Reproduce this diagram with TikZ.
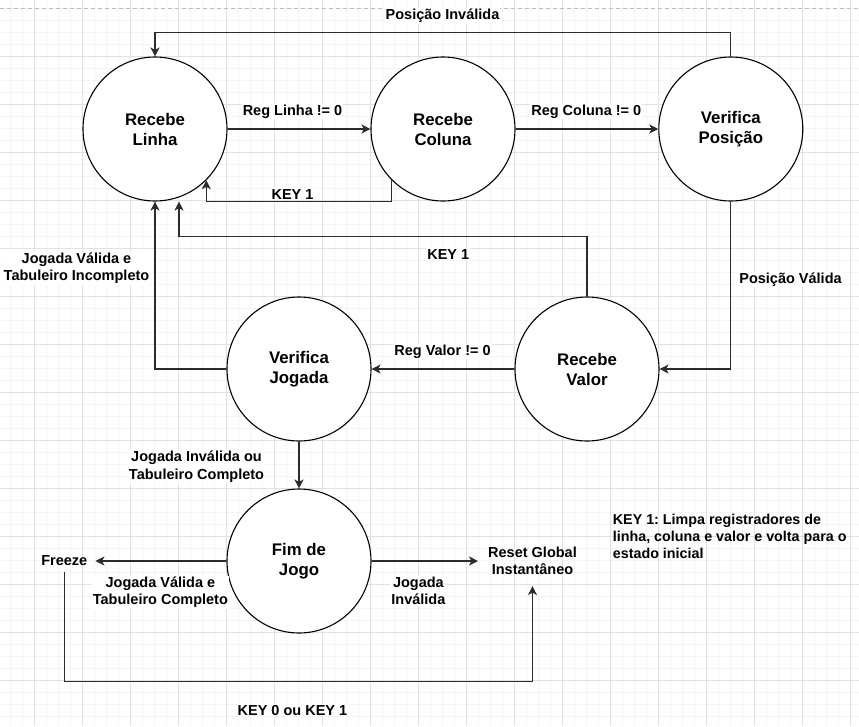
\documentclass[tikz,border=0pt]{standalone}
\usepackage{fontspec}
\setmainfont{Liberation Sans}
\usetikzlibrary{arrows.meta,calc}
\definecolor{gmaj}{HTML}{E2E2E2}
\definecolor{gmin}{HTML}{F5F5F5}
\definecolor{pagedash}{HTML}{BDBDBD}
\definecolor{ink}{HTML}{2B2B2B}
\frenchspacing
\begin{document}
\begin{tikzpicture}[x=1pt,y=-1pt,
  state/.style={circle,draw=black,line width=1.1pt,fill=white,minimum size=144pt,inner sep=0pt,align=center,font=\fontsize{16.8}{20}\selectfont\bfseries},
  lbl/.style={font=\fontsize{14.5}{17.6}\selectfont\bfseries,inner sep=1pt,align=center,fill=white},
  plain/.style={font=\fontsize{14.5}{17.6}\selectfont\bfseries,align=center},
  conn/.style={draw=ink,line width=1.3pt,-{Stealth[length=9pt,width=9pt,inset=2.5pt]}},
  gridminor/.style={draw=gmin,line width=0.8pt},
  gridmajor/.style={draw=gmaj,line width=0.9pt}]
\useasboundingbox (0,0) rectangle (859,726);
\fill[white] (0,0) rectangle (859,726);
% grid
\foreach \i in {0,...,70} \draw[gridminor] ({10.7+12*\i},0) -- ({10.7+12*\i},726);
\foreach \i in {0,...,59} \draw[gridminor] (0,{8.3+12*\i}) -- (859,{8.3+12*\i});
\foreach \i in {0,...,17} \draw[gridmajor] ({34.7+48*\i},0) -- ({34.7+48*\i},726);
\foreach \i in {1,...,14} \draw[gridmajor] (0,{8.3+48*\i}) -- (859,{8.3+48*\i});
\draw[pagedash,line width=0.9pt,dash pattern=on 4pt off 3pt] (0,8.3) -- (859,8.3);
% states
\node[state] (RL) at (155,129) {Recebe\\Linha};
\node[state] (RC) at (443,129) {Recebe\\Coluna};
\node[state] (VP) at (730.8,129) {Verifica\\Posição};
\node[state] (RV) at (587,369) {Recebe\\Valor};
\node[state] (VJ) at (299,369) {Verifica\\Jogada};
\node[state] (FJ) at (299,561) {Fim de\\Jogo};
% terminal texts
\node[plain,anchor=base,inner xsep=8pt,inner ysep=6.5pt] (Freeze) at (64.3,565) {Freeze};
\node[plain,inner xsep=10pt,inner ysep=11pt] (Reset) at (532.5,560.75) {Reset Global\\Instantâneo};
\node[font=\fontsize{14.3}{17.3}\selectfont\bfseries,align=left,anchor=west,inner sep=0pt] (note) at (612.7,536.25) {KEY 1: Limpa registradores de\\linha, coluna e valor e volta para o\\estado inicial};
% connectors
\draw[conn] (RL.east) -- (RC.west);
\draw[conn] (RC.east) -- (VP.west);
\draw[conn] (RC.south west) -- ++(0,21) -| (RL.south east);
\draw[conn] (VP.north) -- ++(0,-24) -| (RL.north);
\draw[conn] (VP.south) |- (RV.east);
\draw[conn] (RV.north) -- ++(0,-60) -| ($(RL.south)+(24,0)$);
\draw[conn] (RV.west) -- (VJ.east);
\draw[conn] (VJ.west) -| (RL.south);
\draw[conn] (VJ.south) -- (FJ.north);
\draw[conn] (FJ.west) -- (FJ.west -| Freeze.east);
\draw[conn] (FJ.east) -- (FJ.east -| Reset.west);
\draw[conn] (Freeze.south) -- ++(0,109.3) -| (Reset.south);
% labels
\node[lbl,anchor=base] (l1) at (292.5,115) {Reg Linha != 0};
\node[lbl,anchor=base] (l2) at (586.3,115) {Reg Coluna != 0};
\node[lbl,anchor=base] (l3) at (292.5,199) {KEY 1};
\node[lbl,anchor=base] (l4) at (442.5,19.5) {Posição Inválida};
\node[lbl,anchor=base] (l5) at (790.5,283.3) {Posição Válida};
\node[lbl,anchor=base] (l6) at (448.3,259.3) {KEY 1};
\node[lbl,anchor=base] (l7) at (442.5,355) {Reg Valor != 0};
\node[lbl] (l8) at (76.5,268.3) {Jogada Válida e\\Tabuleiro Incompleto};
\node[lbl] (l9) at (196.5,466.7) {Jogada Inválida ou\\Tabuleiro Completo};
\node[lbl] (l10) at (160.4,592.3) {Jogada Válida e\\Tabuleiro Completo};
\node[lbl] (l11) at (418.4,590.9) {Jogada\\Inválida};
\node[lbl,anchor=base] (l12) at (292.4,715) {KEY 0 ou KEY 1};
\end{tikzpicture}
\end{document}
